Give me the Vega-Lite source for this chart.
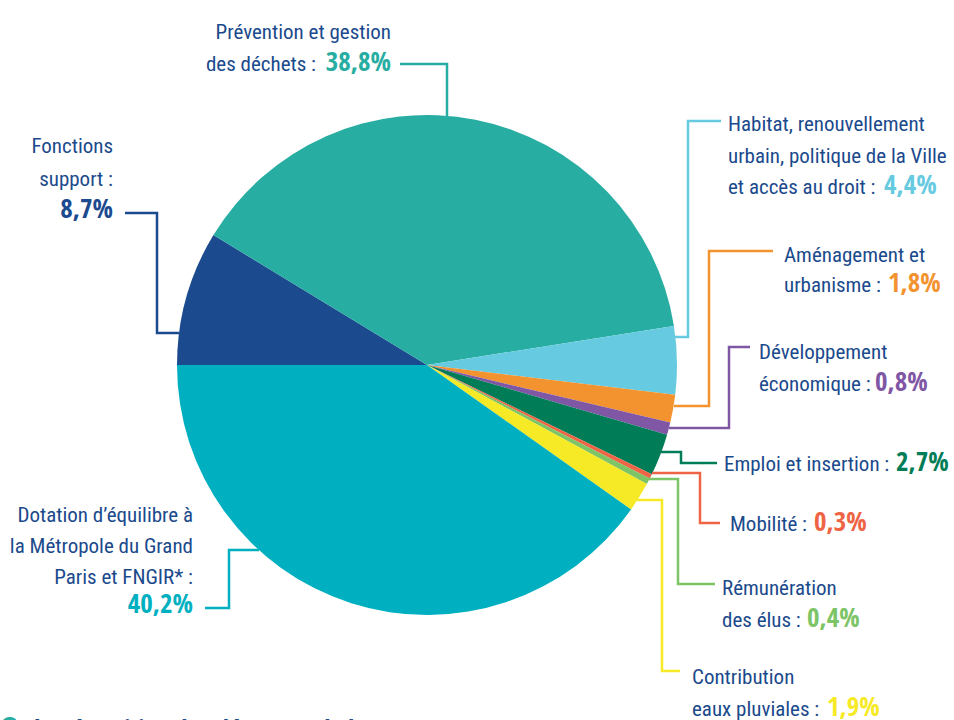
{
  "$schema": "https://vega.github.io/schema/vega-lite/v6.json",
  "width": 954,
  "height": 720,
  "padding": 0,
  "autosize": {"type": "none"},
  "background": "white",
  "config": {"view": {"stroke": null}},
  "datasets": {
    "slices": [
      {"cat": "Fonctions support", "value": 8.7, "order": 1},
      {"cat": "Prévention et gestion des déchets", "value": 38.8, "order": 2},
      {"cat": "Habitat", "value": 4.4, "order": 3},
      {"cat": "Aménagement et urbanisme", "value": 1.8, "order": 4},
      {"cat": "Développement économique", "value": 0.8, "order": 5},
      {"cat": "Emploi et insertion", "value": 2.7, "order": 6},
      {"cat": "Mobilité", "value": 0.3, "order": 7},
      {"cat": "Rémunération des élus", "value": 0.4, "order": 8},
      {"cat": "Contribution eaux pluviales", "value": 1.9, "order": 9},
      {"cat": "Dotation d'équilibre MGP et FNGIR", "value": 40.2, "order": 10}
    ],
    "leaders": [
      {"cat": "Prévention et gestion des déchets", "i": 1, "x": 400, "y": 64},
      {"cat": "Prévention et gestion des déchets", "i": 2, "x": 447, "y": 64},
      {"cat": "Prévention et gestion des déchets", "i": 3, "x": 447, "y": 117},
      {"cat": "Fonctions support", "i": 1, "x": 125, "y": 213},
      {"cat": "Fonctions support", "i": 2, "x": 157, "y": 213},
      {"cat": "Fonctions support", "i": 3, "x": 157, "y": 333},
      {"cat": "Fonctions support", "i": 4, "x": 179, "y": 333},
      {"cat": "Habitat", "i": 1, "x": 675, "y": 337},
      {"cat": "Habitat", "i": 2, "x": 688, "y": 337},
      {"cat": "Habitat", "i": 3, "x": 688, "y": 121},
      {"cat": "Habitat", "i": 4, "x": 721, "y": 121},
      {"cat": "Aménagement et urbanisme", "i": 1, "x": 674, "y": 406},
      {"cat": "Aménagement et urbanisme", "i": 2, "x": 709, "y": 406},
      {"cat": "Aménagement et urbanisme", "i": 3, "x": 709, "y": 251},
      {"cat": "Aménagement et urbanisme", "i": 4, "x": 773, "y": 251},
      {"cat": "Développement économique", "i": 1, "x": 669, "y": 428},
      {"cat": "Développement économique", "i": 2, "x": 729, "y": 428},
      {"cat": "Développement économique", "i": 3, "x": 729, "y": 347},
      {"cat": "Développement économique", "i": 4, "x": 750, "y": 347},
      {"cat": "Emploi et insertion", "i": 1, "x": 661, "y": 452},
      {"cat": "Emploi et insertion", "i": 2, "x": 681, "y": 452},
      {"cat": "Emploi et insertion", "i": 3, "x": 681, "y": 463},
      {"cat": "Emploi et insertion", "i": 4, "x": 717, "y": 463},
      {"cat": "Mobilité", "i": 1, "x": 652, "y": 473},
      {"cat": "Mobilité", "i": 2, "x": 700, "y": 473},
      {"cat": "Mobilité", "i": 3, "x": 700, "y": 523},
      {"cat": "Mobilité", "i": 4, "x": 720, "y": 523},
      {"cat": "Rémunération des élus", "i": 1, "x": 648, "y": 479},
      {"cat": "Rémunération des élus", "i": 2, "x": 678, "y": 479},
      {"cat": "Rémunération des élus", "i": 3, "x": 678, "y": 584},
      {"cat": "Rémunération des élus", "i": 4, "x": 715, "y": 584},
      {"cat": "Contribution eaux pluviales", "i": 1, "x": 637, "y": 500},
      {"cat": "Contribution eaux pluviales", "i": 2, "x": 662, "y": 500},
      {"cat": "Contribution eaux pluviales", "i": 3, "x": 662, "y": 671},
      {"cat": "Contribution eaux pluviales", "i": 4, "x": 680, "y": 671},
      {"cat": "Dotation d'équilibre MGP et FNGIR", "i": 1, "x": 259, "y": 550},
      {"cat": "Dotation d'équilibre MGP et FNGIR", "i": 2, "x": 229, "y": 550},
      {"cat": "Dotation d'équilibre MGP et FNGIR", "i": 3, "x": 229, "y": 608},
      {"cat": "Dotation d'équilibre MGP et FNGIR", "i": 4, "x": 205, "y": 608}
    ],
    "labels": [
      {"cat": "Prévention et gestion des déchets", "side": "right", "part": "label", "x": 391, "y": 39, "t": "Prévention et gestion"},
      {"cat": "Prévention et gestion des déchets", "side": "right", "part": "label", "x": 316, "y": 71, "t": "des déchets :"},
      {"cat": "Prévention et gestion des déchets", "side": "right", "part": "pct", "x": 391, "y": 71, "t": "38,8%"},
      {"cat": "Fonctions support", "side": "right", "part": "label", "x": 113, "y": 153, "t": "Fonctions"},
      {"cat": "Fonctions support", "side": "right", "part": "label", "x": 113, "y": 186, "t": "support :"},
      {"cat": "Fonctions support", "side": "right", "part": "pct", "x": 113, "y": 218, "t": "8,7%"},
      {"cat": "Habitat", "side": "left", "part": "label", "x": 728, "y": 131, "t": "Habitat, renouvellement"},
      {"cat": "Habitat", "side": "left", "part": "label", "x": 728, "y": 163, "t": "urbain, politique de la Ville"},
      {"cat": "Habitat", "side": "left", "part": "label", "x": 728, "y": 194, "t": "et accès au droit :"},
      {"cat": "Habitat", "side": "left", "part": "pct", "x": 884, "y": 194, "t": "4,4%"},
      {"cat": "Aménagement et urbanisme", "side": "left", "part": "label", "x": 784, "y": 262, "t": "Aménagement et"},
      {"cat": "Aménagement et urbanisme", "side": "left", "part": "label", "x": 784, "y": 292, "t": "urbanisme :"},
      {"cat": "Aménagement et urbanisme", "side": "left", "part": "pct", "x": 888, "y": 292, "t": "1,8%"},
      {"cat": "Développement économique", "side": "left", "part": "label", "x": 759, "y": 359, "t": "Développement"},
      {"cat": "Développement économique", "side": "left", "part": "label", "x": 759, "y": 391, "t": "économique :"},
      {"cat": "Développement économique", "side": "left", "part": "pct", "x": 875, "y": 391, "t": "0,8%"},
      {"cat": "Emploi et insertion", "side": "left", "part": "label", "x": 724, "y": 471, "t": "Emploi et insertion :"},
      {"cat": "Emploi et insertion", "side": "left", "part": "pct", "x": 896, "y": 471, "t": "2,7%"},
      {"cat": "Mobilité", "side": "left", "part": "label", "x": 730, "y": 531, "t": "Mobilité :"},
      {"cat": "Mobilité", "side": "left", "part": "pct", "x": 814, "y": 531, "t": "0,3%"},
      {"cat": "Rémunération des élus", "side": "left", "part": "label", "x": 722, "y": 595, "t": "Rémunération"},
      {"cat": "Rémunération des élus", "side": "left", "part": "label", "x": 722, "y": 627, "t": "des élus :"},
      {"cat": "Rémunération des élus", "side": "left", "part": "pct", "x": 807, "y": 627, "t": "0,4%"},
      {"cat": "Contribution eaux pluviales", "side": "left", "part": "label", "x": 692, "y": 684, "t": "Contribution"},
      {"cat": "Contribution eaux pluviales", "side": "left", "part": "label", "x": 692, "y": 716, "t": "eaux pluviales :"},
      {"cat": "Contribution eaux pluviales", "side": "left", "part": "pct", "x": 827, "y": 716, "t": "1,9%"},
      {"cat": "Dotation d'équilibre MGP et FNGIR", "side": "right", "part": "label", "x": 193, "y": 522, "t": "Dotation d’équilibre à"},
      {"cat": "Dotation d'équilibre MGP et FNGIR", "side": "right", "part": "label", "x": 193, "y": 553, "t": "la Métropole du Grand"},
      {"cat": "Dotation d'équilibre MGP et FNGIR", "side": "right", "part": "label", "x": 193, "y": 584, "t": "Paris et FNGIR* :"},
      {"cat": "Dotation d'équilibre MGP et FNGIR", "side": "right", "part": "pct", "x": 193, "y": 613, "t": "40,2%"},
      {"cat": "Prévention et gestion des déchets", "side": "left", "part": "bullet", "x": 0, "y": 731, "t": "●"},
      {"cat": "Fonctions support", "side": "left", "part": "footer", "x": 34, "y": 738, "t": "La répartition des dépenses de la"}
    ]
  },
  "encoding": {},
  "layer": [
    {
      "data": {"name": "slices"},
      "mark": {"type": "arc", "outerRadius": 250},
      "encoding": {
        "x": {"datum": 427, "type": "quantitative", "scale": {"domain": [0, 954], "nice": false, "zero": false}, "axis": null},
        "y": {"datum": 365, "type": "quantitative", "scale": {"domain": [0, 720], "nice": false, "zero": false, "reverse": true}, "axis": null},
        "theta": {"field": "value", "type": "quantitative", "stack": true, "scale": {"domain": [0, 100], "range": [4.712389, 10.995574]}},
        "order": {"field": "order", "type": "quantitative"},
        "color": {
          "field": "cat", "type": "nominal", "legend": null,
          "scale": {
            "domain": ["Fonctions support", "Prévention et gestion des déchets", "Habitat", "Aménagement et urbanisme", "Développement économique", "Emploi et insertion", "Mobilité", "Rémunération des élus", "Contribution eaux pluviales", "Dotation d'équilibre MGP et FNGIR"],
            "range": ["#1c4a8f", "#27ada2", "#66cbe1", "#f3932f", "#7f57a5", "#007c57", "#ee6445", "#7cc465", "#f6e925", "#00b0c0"]
          }
        }
      }
    },
    {
      "data": {"name": "leaders"},
      "mark": {"type": "line", "strokeWidth": 2.5, "strokeJoin": "miter", "strokeCap": "butt"},
      "encoding": {
        "x": {"field": "x", "type": "quantitative", "axis": null},
        "y": {"field": "y", "type": "quantitative", "axis": null},
        "color": {"field": "cat", "type": "nominal", "legend": null},
        "detail": {"field": "cat"},
        "order": {"field": "i", "type": "quantitative"}
      }
    },
    {
      "data": {"name": "labels"},
      "transform": [{"filter": "datum.part === 'label' && datum.side === 'left'"}],
      "mark": {"type": "text", "align": "left", "baseline": "alphabetic", "font": "Roboto Condensed", "fontSize": 21, "color": "#1b4a8c"},
      "encoding": {
        "x": {"field": "x", "type": "quantitative", "axis": null},
        "y": {"field": "y", "type": "quantitative", "axis": null},
        "text": {"field": "t"}
      }
    },
    {
      "data": {"name": "labels"},
      "transform": [{"filter": "datum.part === 'label' && datum.side === 'right'"}],
      "mark": {"type": "text", "align": "right", "baseline": "alphabetic", "font": "Roboto Condensed", "fontSize": 21, "color": "#1b4a8c"},
      "encoding": {
        "x": {"field": "x", "type": "quantitative", "axis": null},
        "y": {"field": "y", "type": "quantitative", "axis": null},
        "text": {"field": "t"}
      }
    },
    {
      "data": {"name": "labels"},
      "transform": [{"filter": "datum.part === 'pct' && datum.side === 'left'"}],
      "mark": {"type": "text", "align": "left", "baseline": "alphabetic", "font": "Open Sans Condensed, Roboto Condensed", "fontSize": 27, "fontWeight": "bold"},
      "encoding": {
        "x": {"field": "x", "type": "quantitative", "axis": null},
        "y": {"field": "y", "type": "quantitative", "axis": null},
        "text": {"field": "t"},
        "color": {"field": "cat", "type": "nominal", "legend": null}
      }
    },
    {
      "data": {"name": "labels"},
      "transform": [{"filter": "datum.part === 'pct' && datum.side === 'right'"}],
      "mark": {"type": "text", "align": "right", "baseline": "alphabetic", "font": "Open Sans Condensed, Roboto Condensed", "fontSize": 27, "fontWeight": "bold"},
      "encoding": {
        "x": {"field": "x", "type": "quantitative", "axis": null},
        "y": {"field": "y", "type": "quantitative", "axis": null},
        "text": {"field": "t"},
        "color": {"field": "cat", "type": "nominal", "legend": null}
      }
    },
    {
      "data": {"name": "labels"},
      "transform": [{"filter": "datum.part === 'bullet'"}],
      "mark": {"type": "text", "align": "left", "baseline": "alphabetic", "font": "DejaVu Sans", "fontSize": 22, "color": "#27ada2"},
      "encoding": {
        "x": {"field": "x", "type": "quantitative", "axis": null},
        "y": {"field": "y", "type": "quantitative", "axis": null},
        "text": {"field": "t"}
      }
    },
    {
      "data": {"name": "labels"},
      "transform": [{"filter": "datum.part === 'footer'"}],
      "mark": {"type": "text", "align": "left", "baseline": "alphabetic", "font": "Roboto Condensed", "fontSize": 25, "fontWeight": "bold", "color": "#1b4a8c", "letterSpacing": 3},
      "encoding": {
        "x": {"field": "x", "type": "quantitative", "axis": null},
        "y": {"field": "y", "type": "quantitative", "axis": null},
        "text": {"field": "t"}
      }
    }
  ]
}
